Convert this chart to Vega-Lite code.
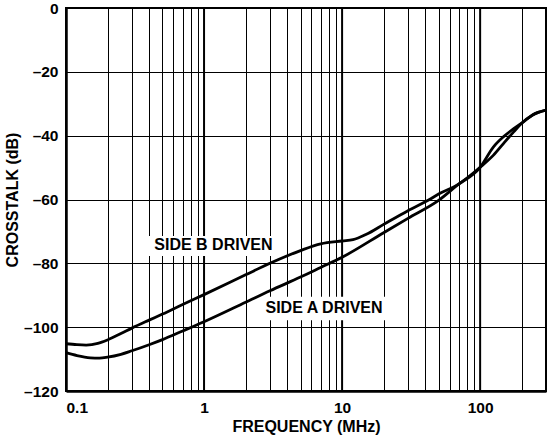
{
  "$schema": "https://vega.github.io/schema/vega-lite/v6.json",
  "width": 480,
  "height": 383,
  "autosize": {"type": "none"},
  "padding": {"left": 66, "top": 8, "right": 2, "bottom": 47},
  "background": "white",
  "config": {
    "view": {"stroke": "#000", "strokeWidth": 2},
    "font": "Liberation Sans",
    "axis": {
      "labelFont": "Liberation Sans", "labelFontWeight": "bold", "labelFontSize": 15.5, "labelColor": "#000",
      "titleFont": "Liberation Sans", "titleFontWeight": "bold", "titleFontSize": 16, "titleColor": "#000",
      "domainColor": "#000", "domainWidth": 2.5, "ticks": false,
      "grid": true, "gridColor": "#000", "gridWidth": 1, "gridOpacity": 1
    }
  },
  "datasets": {
    "curves": [
      {"f": 0.1, "db": -105.2, "s": "B"}, {"f": 0.12, "db": -105.5, "s": "B"}, {"f": 0.14, "db": -105.6, "s": "B"},
      {"f": 0.17, "db": -105.1, "s": "B"}, {"f": 0.2, "db": -104.0, "s": "B"}, {"f": 0.25, "db": -102.0, "s": "B"},
      {"f": 0.3, "db": -100.3, "s": "B"}, {"f": 0.4, "db": -97.8, "s": "B"}, {"f": 0.5, "db": -95.9, "s": "B"},
      {"f": 0.7, "db": -92.9, "s": "B"}, {"f": 1, "db": -89.8, "s": "B"}, {"f": 2, "db": -83.6, "s": "B"},
      {"f": 3, "db": -80.0, "s": "B"}, {"f": 5, "db": -76.0, "s": "B"}, {"f": 7, "db": -73.9, "s": "B"},
      {"f": 10, "db": -73.0, "s": "B"}, {"f": 12, "db": -72.6, "s": "B"}, {"f": 15, "db": -70.9, "s": "B"},
      {"f": 20, "db": -67.8, "s": "B"}, {"f": 30, "db": -63.5, "s": "B"}, {"f": 43, "db": -60.0, "s": "B"},
      {"f": 50, "db": -58.3, "s": "B"}, {"f": 68, "db": -55.5, "s": "B"}, {"f": 100, "db": -49.9, "s": "B"},
      {"f": 125, "db": -46.1, "s": "B"}, {"f": 148, "db": -42.4, "s": "B"}, {"f": 175, "db": -38.8, "s": "B"},
      {"f": 200, "db": -36.1, "s": "B"}, {"f": 240, "db": -33.5, "s": "B"}, {"f": 300, "db": -32.0, "s": "B"},
      {"f": 0.1, "db": -108.0, "s": "A"}, {"f": 0.12, "db": -108.9, "s": "A"}, {"f": 0.15, "db": -109.6, "s": "A"},
      {"f": 0.175, "db": -109.7, "s": "A"}, {"f": 0.2, "db": -109.4, "s": "A"}, {"f": 0.25, "db": -108.5, "s": "A"},
      {"f": 0.3, "db": -107.4, "s": "A"}, {"f": 0.4, "db": -105.5, "s": "A"}, {"f": 0.5, "db": -103.9, "s": "A"},
      {"f": 0.7, "db": -101.2, "s": "A"}, {"f": 1, "db": -98.3, "s": "A"}, {"f": 2, "db": -92.2, "s": "A"},
      {"f": 3, "db": -88.6, "s": "A"}, {"f": 5, "db": -84.3, "s": "A"}, {"f": 7, "db": -81.3, "s": "A"},
      {"f": 10, "db": -78.1, "s": "A"}, {"f": 20, "db": -70.4, "s": "A"}, {"f": 30, "db": -65.9, "s": "A"},
      {"f": 50, "db": -60.3, "s": "A"}, {"f": 68, "db": -55.6, "s": "A"}, {"f": 100, "db": -49.9, "s": "A"},
      {"f": 125, "db": -43.5, "s": "A"}, {"f": 148, "db": -40.3, "s": "A"}, {"f": 175, "db": -37.8, "s": "A"},
      {"f": 200, "db": -36.1, "s": "A"}, {"f": 240, "db": -33.5, "s": "A"}, {"f": 300, "db": -32.0, "s": "A"}
    ],
    "major": [{"f": 1}, {"f": 10}, {"f": 100}],
    "labels": [
      {"text": "SIDE B DRIVEN", "f": 1.17, "db": -74.4, "f1": 0.39, "f2": 3.2, "d1": -71.4, "d2": -77.7},
      {"text": "SIDE A DRIVEN", "f": 7.4, "db": -94.0, "f1": 2.54, "f2": 21.5, "d1": -90.5, "d2": -97.8}
    ]
  },
  "layer": [
    {
      "data": {"name": "major"},
      "mark": {"type": "rule", "color": "#000", "strokeWidth": 2},
      "encoding": {
        "x": {
          "field": "f", "type": "quantitative",
          "scale": {"type": "log", "domain": [0.1, 300], "nice": false},
          "axis": {
            "title": "FREQUENCY (MHz)",
            "values": [0.1, 0.2, 0.3, 0.4, 0.5, 0.6, 0.7, 0.8, 0.9, 1, 2, 3, 4, 5, 6, 7, 8, 9, 10, 20, 30, 40, 50, 60, 70, 80, 90, 100, 200, 300],
            "labelExpr": "indexof([0.1, 1, 10, 100], datum.value) >= 0 ? '' + datum.value : ''",
            "labelOverlap": false,
            "labelPadding": 9,
            "titlePadding": 3
          }
        }
      }
    },
    {
      "data": {"name": "labels"},
      "mark": {"type": "rect", "color": "white"},
      "encoding": {
        "x": {"field": "f1", "type": "quantitative"},
        "x2": {"field": "f2"},
        "y": {"field": "d1", "type": "quantitative"},
        "y2": {"field": "d2"}
      }
    },
    {
      "data": {"name": "curves"},
      "mark": {"type": "line", "color": "#000", "strokeWidth": 2.8, "interpolate": "monotone"},
      "encoding": {
        "x": {"field": "f", "type": "quantitative"},
        "y": {
          "field": "db", "type": "quantitative",
          "scale": {"domain": [-120, 0], "nice": false},
          "axis": {
            "title": "CROSSTALK (dB)",
            "values": [-120, -100, -80, -60, -40, -20, 0],
            "labelExpr": "datum.value < 0 ? '\u2013' + abs(datum.value) : '' + datum.value",
            "labelPadding": 8,
            "titlePadding": 3
          }
        },
        "detail": {"field": "s", "type": "nominal"}
      }
    },
    {
      "data": {"name": "labels"},
      "mark": {"type": "text", "font": "Liberation Sans", "fontWeight": "bold", "fontSize": 16, "color": "#000", "align": "center", "baseline": "middle"},
      "encoding": {
        "x": {"field": "f", "type": "quantitative"},
        "y": {"field": "db", "type": "quantitative"},
        "text": {"field": "text"}
      }
    }
  ]
}
